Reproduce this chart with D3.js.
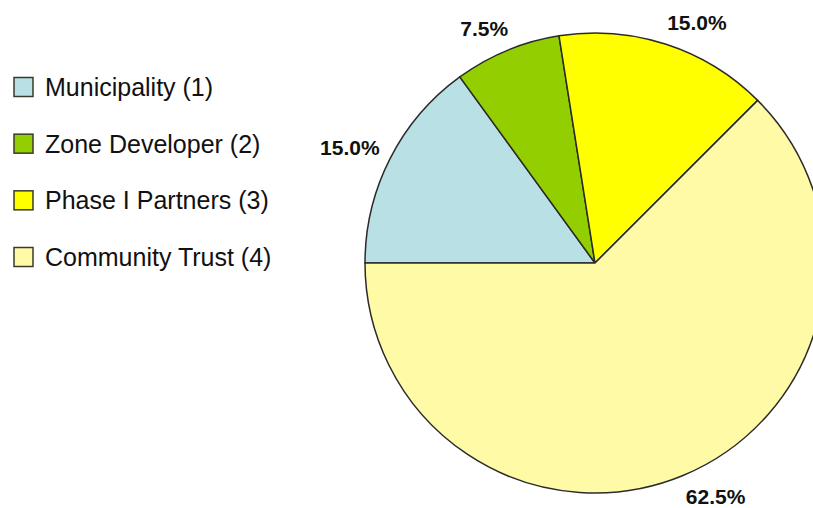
<!DOCTYPE html>
<html lang="en">
<head>
    <meta charset="UTF-8">
    <title>Ownership Shares</title>
    <style>
        body {
            margin: 0;
            background-color: #ffffff;
        }
        svg {
            display: block;
            font-family: "Liberation Sans", Arial, sans-serif;
        }
        .slice {
            stroke: #2b2b2b;
            stroke-width: 1.5px;
        }
        .pct {
            font-size: 21px;
            font-weight: bold;
            fill: #111;
        }
        .legend text {
            font-size: 25px;
            fill: #111;
        }
        .legend rect {
            stroke: #3a3a2a;
            stroke-width: 1.5px;
        }
    </style>
</head>
<body>
    <svg id="chart" width="813" height="508"></svg>
    <script src="https://d3js.org/d3.v7.min.js"></script>
    <script>
        const categories = ["Municipality (1)", "Zone Developer (2)", "Phase I Partners (3)", "Community Trust (4)"];
        const shares = [15.0, 7.5, 15.0, 62.5];
        const colors = ["#b9e0e5", "#93cf00", "#ffff00", "#fffaa6"];

        const width = 813, height = 508;
        const cx = 595, cy = 263, radius = 230;
        const labelRadius = 253;

        const svg = d3.select("#chart");

        const data = categories.map((c, i) => ({ name: c, value: shares[i], color: colors[i] }));

        // slices run clockwise starting from 9 o'clock
        const pie = d3.pie()
            .value(d => d.value)
            .sort(null)
            .startAngle(-Math.PI / 2)
            .endAngle(1.5 * Math.PI);

        const arc = d3.arc().innerRadius(0).outerRadius(radius);
        const labelArc = d3.arc().innerRadius(labelRadius).outerRadius(labelRadius);

        const g = svg.append("g")
            .attr("transform", `translate(${cx},${cy})`);

        const arcs = pie(data);

        g.selectAll("path")
            .data(arcs)
            .join("path")
            .attr("class", "slice")
            .attr("fill", d => d.data.color)
            .attr("d", arc);

        g.selectAll("text")
            .data(arcs)
            .join("text")
            .attr("class", "pct")
            .attr("dy", "0.34em")
            .attr("text-anchor", d => {
                const mid = (d.startAngle + d.endAngle) / 2;
                return Math.sin(mid) < 0 ? "end" : "start";
            })
            .attr("x", d => {
                const mid = (d.startAngle + d.endAngle) / 2;
                const [x] = labelArc.centroid(d);
                return Math.sin(mid) < 0 ? x + 10 : x - 6;
            })
            .attr("y", d => labelArc.centroid(d)[1])
            .text(d => d.data.value.toFixed(1) + "%");

        // legend
        const legendY = d3.scalePoint()
            .domain(categories)
            .range([87, 257]);

        const legend = svg.append("g")
            .attr("class", "legend")
            .selectAll("g")
            .data(data)
            .join("g")
            .attr("transform", d => `translate(0,${legendY(d.name)})`);

        legend.append("rect")
            .attr("x", 14)
            .attr("y", -9.5)
            .attr("width", 19)
            .attr("height", 19)
            .attr("fill", d => d.color);

        legend.append("text")
            .attr("x", 45)
            .attr("dy", "0.36em")
            .text(d => d.name);
    </script>
</body>
</html>
